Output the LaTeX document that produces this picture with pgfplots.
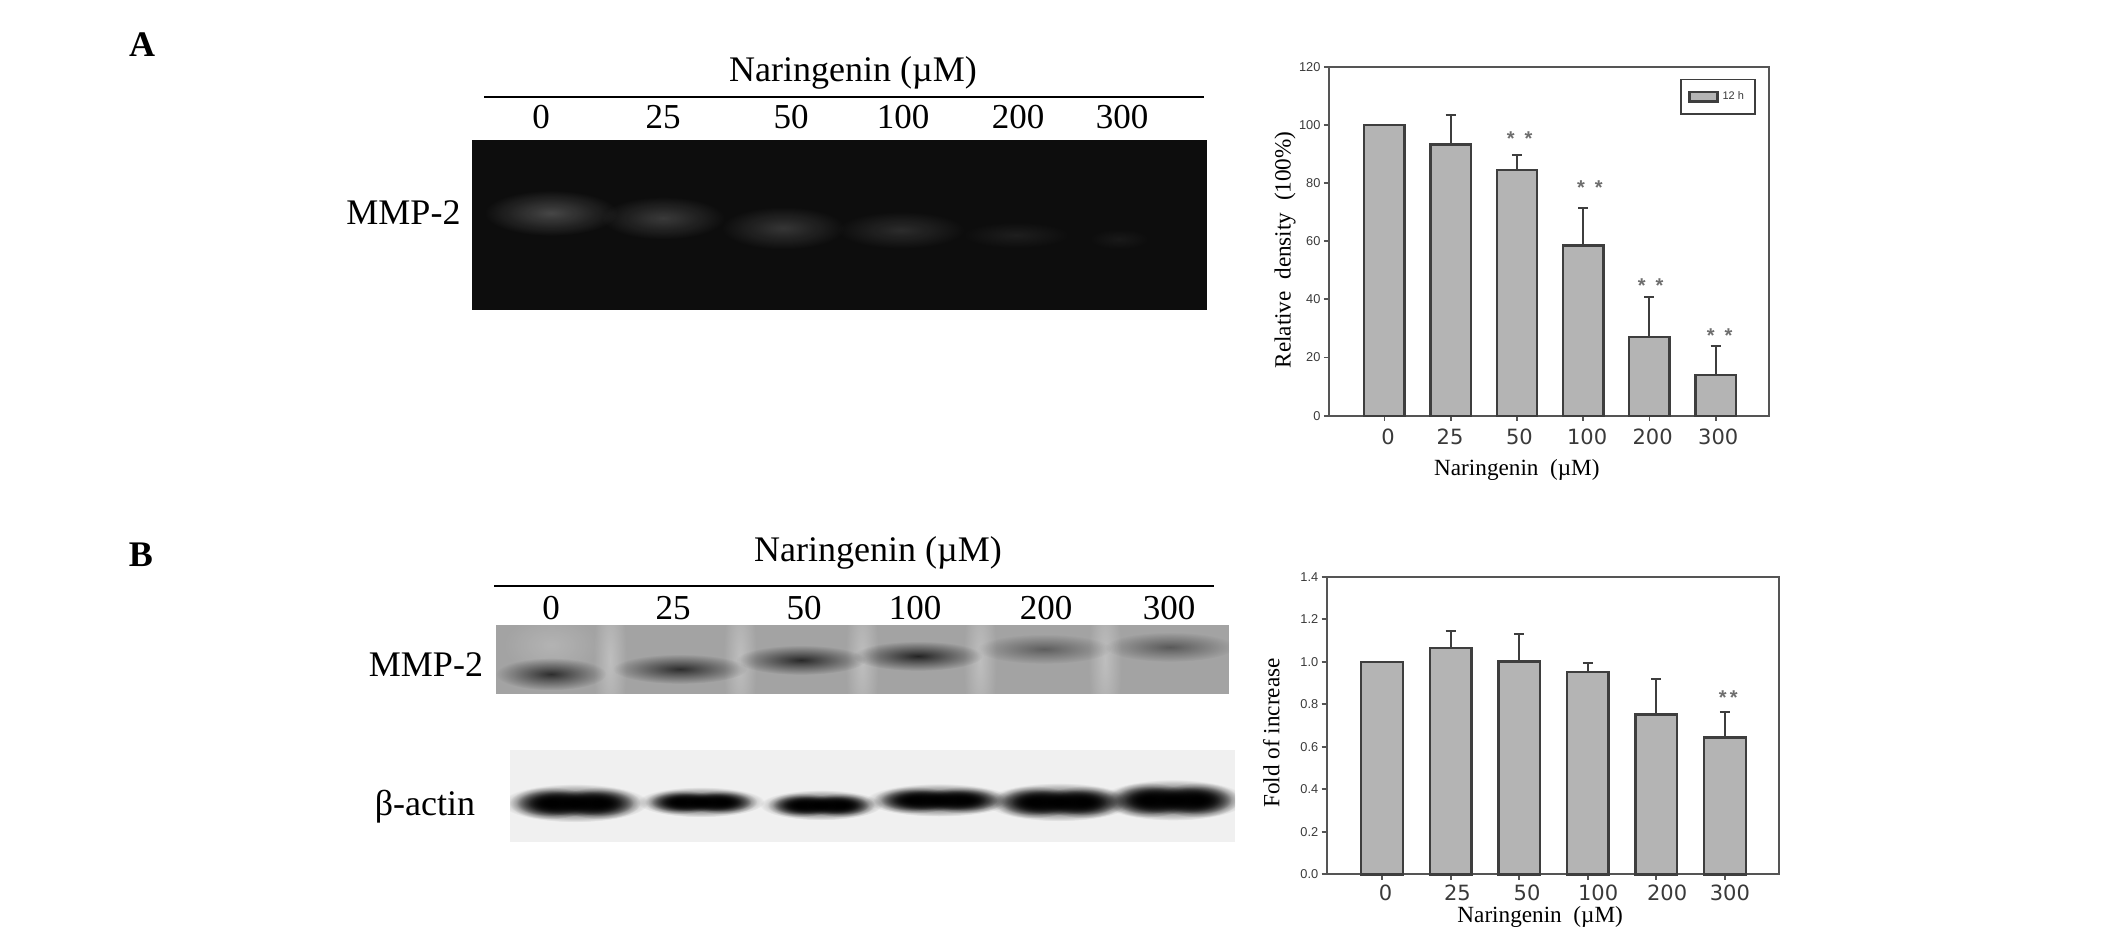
\documentclass[border=0pt]{standalone}
\usepackage{fontspec}
\setmainfont{Liberation Serif}
\newfontfamily\arialf{Liberation Sans}
\newfontfamily\wide{DejaVu Sans}
\usepackage{pgfplots}
\pgfplotsset{compat=1.18}
\usetikzlibrary{fadings}
\tikzfading[name=blob, inner color=transparent!0, outer color=transparent!100]
\definecolor{barfill}{HTML}{B4B4B4}
\definecolor{barline}{HTML}{3E3E3E}
\definecolor{axisline}{HTML}{555555}
\definecolor{ticktext}{HTML}{3A3A3A}
% band: x,y,half-width,half-height,colour,opacity
\newcommand\band[6]{\fill[#5,path fading=blob,fill opacity=#6] (#1,#2) ellipse ({1.2*#3} and {1.35*#4});}
% actin: a dark band with a flat core, made of three overlapping blobs
\newcommand\actin[4]{%
  \band{#1}{#2}{#3+6}{#4+3}{black}{1}
  \band{#1-#3*0.45}{#2}{#3*0.6}{#4}{black}{1}
  \band{#1+#3*0.45}{#2}{#3*0.6}{#4}{black}{1}
  \band{#1-#3*0.45}{#2}{#3*0.5}{#4*0.8}{black}{1}
  \band{#1+#3*0.45}{#2}{#3*0.5}{#4*0.8}{black}{1}
  \band{#1}{#2}{#3*0.7}{#4*0.8}{black}{1}
}
\newcommand\tl[2]{\hspace*{#1pt}#2}
\pgfplotsset{
  blot/.style={
    scale only axis, anchor=south west, axis on top=false,
    ybar, bar width=0.61, clip=false,
    axis line style={axisline,line width=1pt},
    tick align=outside, tick pos=left,
    major tick length=2.6pt,
    every tick/.style={axisline,line width=0.9pt},
    xtick={0,1,2,3,4,5},
    x tick label style={font=\wide\fontsize{10.5}{10.5}\selectfont,text=ticktext,anchor=center,yshift=-7.8pt},
    y tick label style={font=\arialf\fontsize{6.4}{6.4}\selectfont,text=ticktext,inner sep=1.5pt},
    /pgf/number format/assume math mode=true,
    label style={font=\fontsize{11.6}{12}\selectfont},
  },
  barstyle/.style={fill=barfill,draw=barline,line width=1.2pt,
    error bars/.cd,y dir=plus,y explicit,
    error bar style={barline,line width=1pt},
    error mark options={rotate=90,mark size=2.5pt,barline,line width=1pt}},
}
\tikzset{star/.style={font=\arialf\bfseries\fontsize{10}{10}\selectfont,text=barline!75,inner sep=0pt}}
\begin{document}
\begin{tikzpicture}[x=0.5pt,y=-0.5pt]
\path[use as bounding box,fill=white] (0,0) rectangle (2126,946);

% ---- panel letters
\node[font=\bfseries\fontsize{18}{18}\selectfont] at (142,45) {A};
\node[font=\bfseries\fontsize{18}{18}\selectfont] at (141,555) {B};

% ---- gel A
\fill[black!95] (472,140) rectangle (1207,310);
\begin{scope}
\clip (472,140) rectangle (1207,310);
\band{551}{213}{56}{17}{white}{0.24}
\band{663}{218}{52}{16}{white}{0.19}
\band{783}{228}{52}{16}{white}{0.17}
\band{901}{230}{54}{14}{white}{0.13}
\band{1016}{235}{46}{10}{white}{0.07}
\band{1119}{239}{26}{8}{white}{0.05}
\end{scope}
\node[font=\fontsize{18}{18}\selectfont] at (853,73) {Naringenin (µM)};
\draw[black,line width=1.1pt] (484,97.3) -- (1204,97.3);
\foreach \x/\lab in {541/0,663/25,791/50,903/100,1018/200,1122/300}{
  \node[font=\fontsize{17.5}{18}\selectfont] at (\x,117.5) {\lab};
}
\node[font=\fontsize{18}{18}\selectfont] at (403.5,213) {MMP-2};

% ---- blot B top
\fill[black!36] (495.5,625) rectangle (1229,694);
\begin{scope}
\clip (495.5,625) rectangle (1229,694);
\foreach \x in {610,740,862,980,1105}{
  \band{\x}{660}{14}{60}{white}{0.3}
}
\band{551}{645}{40}{22}{white}{0.18}
\band{551}{674}{46}{12}{black}{0.72}
\band{680}{669}{56}{11}{black}{0.72}
\band{801}{660}{54}{11}{black}{0.75}
\band{918}{656}{54}{11}{black}{0.78}
\band{1044}{649}{56}{11}{black}{0.42}
\band{1170}{647}{54}{11}{black}{0.45}
\end{scope}
\node[font=\fontsize{18}{18}\selectfont] at (878,553) {Naringenin (µM)};
\draw[black,line width=1.1pt] (494,585.7) -- (1214,585.7);
\foreach \x/\lab in {551/0,673/25,804/50,915/100,1046/200,1169/300}{
  \node[font=\fontsize{17.5}{18}\selectfont] at (\x,608) {\lab};
}
\node[font=\fontsize{18}{18}\selectfont] at (426,665) {MMP-2};

% ---- blot B bottom
\fill[black!6] (510,750) rectangle (1235,842);
\begin{scope}
\clip (510,750) rectangle (1235,842);
\actin{575}{803}{56}{12}
\actin{701}{802}{48}{9}
\actin{821}{805}{46}{9}
\actin{939}{800}{56}{10}
\actin{1059}{802}{56}{12}
\actin{1173}{800}{56}{13}
\end{scope}
\node[font=\fontsize{18}{18}\selectfont] at (425,807) {β-actin};

% ---- chart A
\begin{axis}[blot,
  at={(664.5pt,-207.85pt)}, width=220pt, height=174.5pt,
  xmin=-0.837, xmax=5.805, ymin=0, ymax=120,
  ytick={0,20,40,60,80,100,120},
  xticklabels={\tl{3.6}{0},\tl{-0.7}{25},\tl{2.5}{50},\tl{3.9}{100},\tl{3.2}{200},\tl{2.5}{300}},
  xlabel={Naringenin\ \ (µM)},
  ylabel={Relative\ \ density\ \ (100\%)},
  xlabel style={at={(axis description cs:0.427,-0.1556)},anchor=center},
  ylabel style={at={(axis description cs:-0.1,0.475)},anchor=center},
  legend style={at={(0.97,0.966)},anchor=north east,draw=barline,line width=0.9pt,
    font=\arialf\fontsize{5.5}{6}\selectfont,inner xsep=3.5pt,inner ysep=3.8pt,
    text=ticktext,legend cell align=left},
  legend image code/.code={\draw[fill=barfill,draw=barline,line width=1.2pt] (0pt,-2.4pt) rectangle (14pt,2.4pt);},
]
\addplot+[barstyle] coordinates {
  (0,100) +- (0,0)
  (1,93.3) +- (0,10.1)
  (2,84.5) +- (0,5.0)
  (3,58.5) +- (0,12.8)
  (4,27.0) +- (0,13.7)
  (5,13.9) +- (0,10.1)
};
\legend{12 h}
\node[star] at (axis cs:2.04,95.2) {*\,\,\,*};
\node[star] at (axis cs:3.10,78.4) {*\,\,\,*};
\node[star] at (axis cs:4.02,44.6) {*\,\,\,*};
\node[star] at (axis cs:5.06,27.6) {*\,\,\,*};
\end{axis}

% ---- chart B
\begin{axis}[blot,
  at={(663.4pt,-437.15pt)}, width=226pt, height=148.8pt,
  xmin=-0.806, xmax=5.786, ymin=0, ymax=1.4,
  ytick={0,0.2,0.4,0.6,0.8,1.0,1.2,1.4},
  yticklabel style={/pgf/number format/fixed,/pgf/number format/fixed zerofill,/pgf/number format/precision=1},
  x tick label style={yshift=1.3pt},
  xticklabels={\tl{3.6}{0},\tl{6.8}{25},\tl{7.8}{50},\tl{10.4}{100},\tl{10.8}{200},\tl{5}{300}},
  xlabel={Naringenin\ \ (µM)},
  ylabel={Fold of increase},
  xlabel style={at={(axis description cs:0.472,-0.144)},anchor=center},
  ylabel style={at={(axis description cs:-0.123,0.475)},anchor=center},
]
\addplot+[barstyle] coordinates {
  (0,1.0) +- (0,0)
  (1,1.066) +- (0,0.080)
  (2,1.002) +- (0,0.127)
  (3,0.953) +- (0,0.039)
  (4,0.751) +- (0,0.169)
  (5,0.643) +- (0,0.122)
};
\node[star] at (axis cs:5.05,0.832) {*\,*};
\end{axis}
\end{tikzpicture}
\end{document}
